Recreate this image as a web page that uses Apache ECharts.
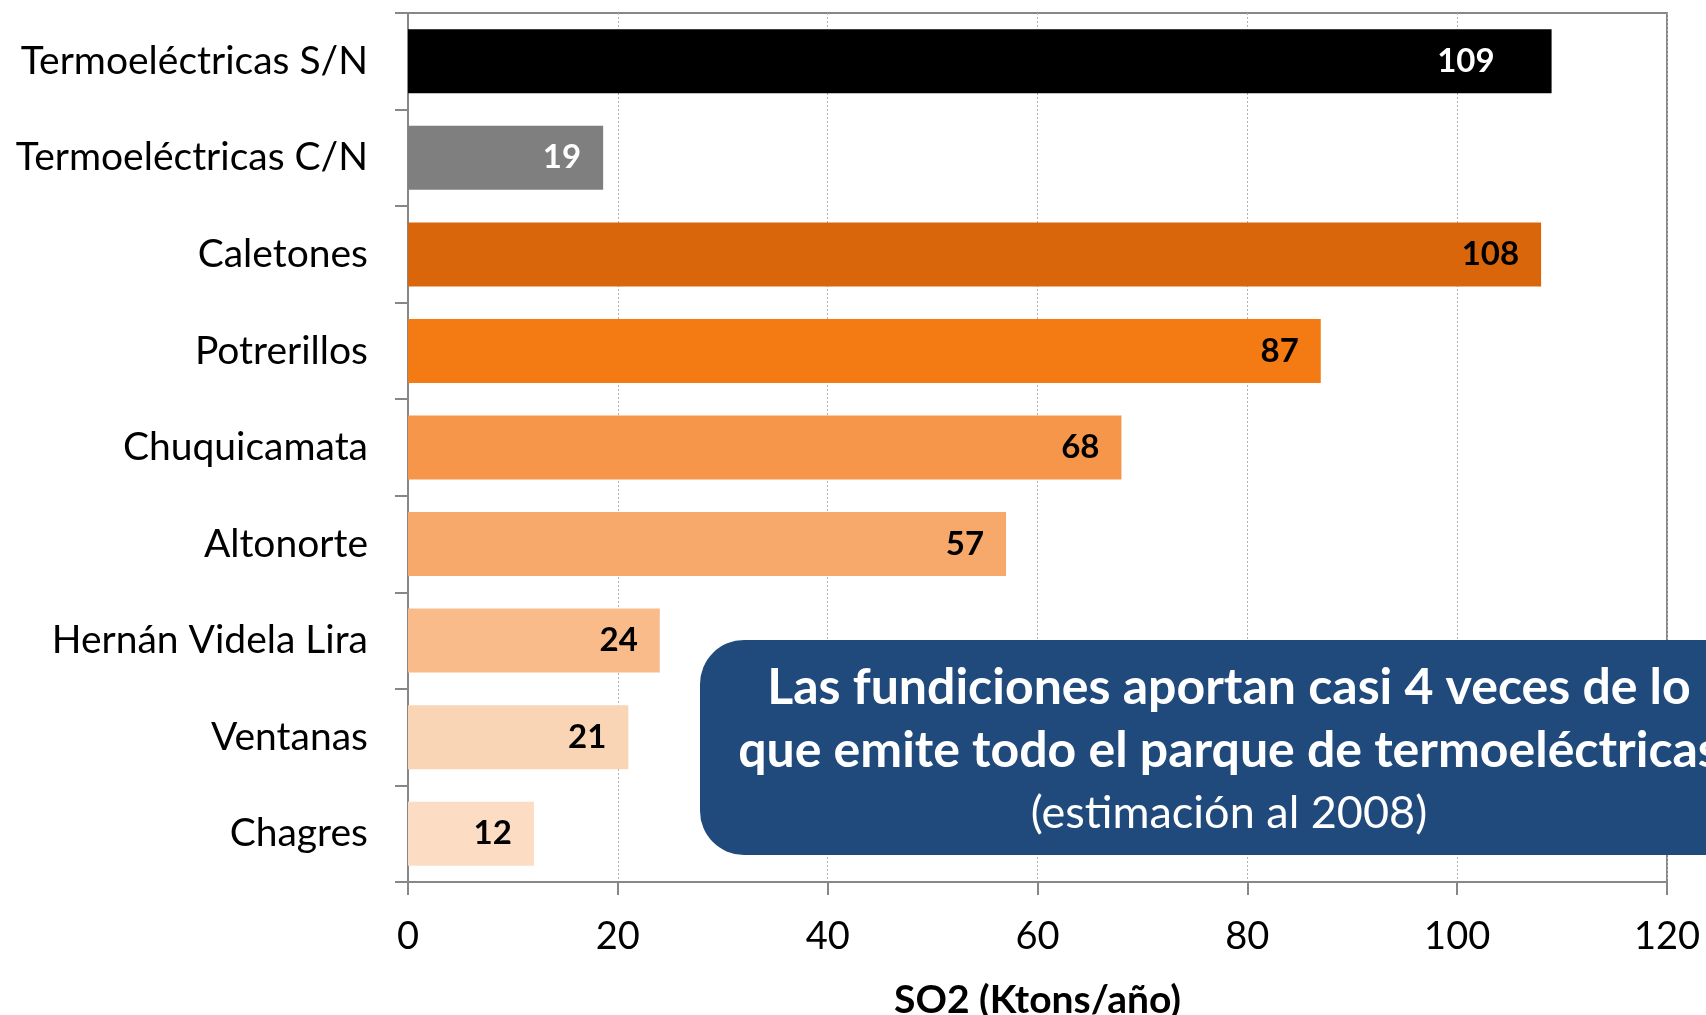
<!DOCTYPE html>
<html>
<head>
<meta charset="utf-8">
<title>SO2 emisiones</title>
<script src="https://cdn.jsdelivr.net/npm/echarts@6/dist/echarts.min.js"></script>
<style>
  html, body { margin: 0; padding: 0; background: #fff; }
  #chart { width: 1706px; height: 1015px; }
</style>
</head>
<body>
<div id="chart"></div>
<script>
// 类别
const categories = [
  'Termoeléctricas S/N',
  'Termoeléctricas C/N',
  'Caletones',
  'Potrerillos',
  'Chuquicamata',
  'Altonorte',
  'Hernán Videla Lira',
  'Ventanas',
  'Chagres'
];
// SO2 (Ktons/año)
const values = [109, 18.6, 108, 87, 68, 57, 24, 21, 12];
// 横轴刻度
const xTicks = [0, 20, 40, 60, 80, 100, 120];

// 颜色
const barColors = ['#000000', '#7f7f7f', '#d9660a', '#f47a14', '#f5964a', '#f6a96b', '#f8bb89', '#fad5b5', '#fcdcc2'];
const labelColors = ['#ffffff', '#ffffff', '#000', '#000', '#000', '#000', '#000', '#000', '#000'];

const boxLines = [
  'Las fundiciones aportan casi 4 veces de lo',
  'que emite todo el parque de termoeléctricas',
  '(estimación al 2008)'
];

const FONT = 'Lato, "Open Sans", sans-serif';
const AXIS_GRAY = '#878787';

const chart = echarts.init(document.getElementById('chart'));

// 每根柱子的颜色和标签
const seriesData = values.map((v, i) => ({
  value: v,
  itemStyle: { color: barColors[i] },
  label: {
    color: labelColors[i],
    distance: i === 0 ? 57 : 22
  }
}));

const option = {
  animation: false,
  grid: {
    left: 408,
    right: 39,
    top: 13,
    bottom: 133,
    outerBoundsMode: 'none',
    show: true,
    borderColor: AXIS_GRAY,
    borderWidth: 2
  },
  xAxis: {
    type: 'value',
    min: xTicks[0],
    max: xTicks[xTicks.length - 1],
    interval: xTicks[1] - xTicks[0],
    name: 'SO2 (Ktons/año)',
    nameLocation: 'middle',
    nameGap: 99,
    nameTextStyle: { fontFamily: FONT, fontSize: 39, fontWeight: 'bold', color: '#000' },
    axisLine: { show: true, lineStyle: { color: AXIS_GRAY, width: 2 } },
    axisTick: { show: true, length: 13, lineStyle: { color: AXIS_GRAY, width: 2 } },
    axisLabel: { fontFamily: FONT, fontSize: 38, color: '#000', margin: 36 },
    splitLine: { show: true, lineStyle: { color: '#b0b0b0', width: 1, type: [2, 2] } }
  },
  yAxis: {
    type: 'category',
    data: categories,
    inverse: true,
    axisLine: { show: true, lineStyle: { color: AXIS_GRAY, width: 2 } },
    axisTick: { show: true, length: 13, lineStyle: { color: AXIS_GRAY, width: 2 } },
    axisLabel: { fontFamily: FONT, fontSize: 39, color: '#000', margin: 40 },
    splitLine: { show: false }
  },
  series: [
    {
      type: 'bar',
      data: seriesData,
      barCategoryGap: '33.7%',
      label: {
        show: true,
        position: 'insideRight',
        fontFamily: FONT,
        fontSize: 33,
        fontWeight: 'bold',
        padding: [6, 0, 0, 0],
        formatter: p => Math.round(p.value)
      }
    }
  ],
  // 说明框
  graphic: [
    {
      type: 'rect',
      left: 700,
      top: 640,
      shape: { width: 1058, height: 215, r: 44 },
      style: { fill: '#214a7c' },
      z: 10
    },
    {
      type: 'text',
      x: 1229,
      y: 688,
      style: {
        text: boxLines[0],
        fill: '#fff',
        font: 'bold 50px ' + FONT,
        align: 'center',
        verticalAlign: 'middle'
      },
      z: 11
    },
    {
      type: 'text',
      x: 1229,
      y: 751,
      style: {
        text: boxLines[1],
        fill: '#fff',
        font: 'bold 50px ' + FONT,
        align: 'center',
        verticalAlign: 'middle'
      },
      z: 11
    },
    {
      type: 'text',
      x: 1229,
      y: 813,
      style: {
        text: boxLines[2],
        fill: '#fff',
        font: '45px ' + FONT,
        align: 'center',
        verticalAlign: 'middle'
      },
      z: 11
    }
  ]
};

chart.setOption(option);
</script>
</body>
</html>
